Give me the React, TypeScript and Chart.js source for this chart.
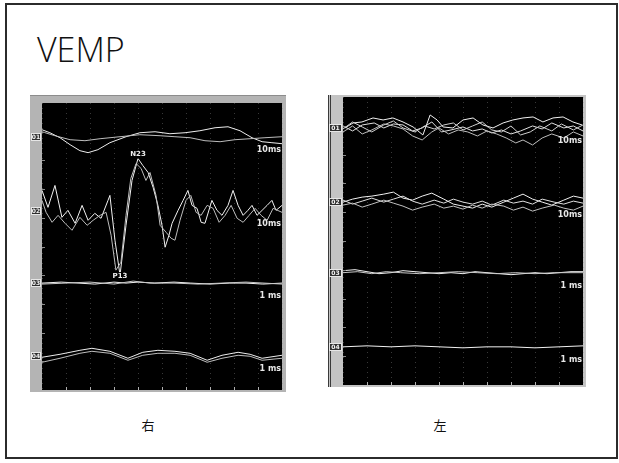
import React, { useEffect, useRef } from "react";
import { Chart, registerables } from "chart.js";
Chart.register(...registerables);

type P = [number, number][];

// ---------- Data (x: % of sweep, y: amplitude deviation in µV-like units) ----------
const CH_LABELS = ["01", "02", "03", "04"];
const L_SCALE_LABELS = ["10ms", "10ms", "1 ms", "1 ms"];
const R_SCALE_LABELS = ["10ms", "10ms", "1 ms", "1 ms"];
const L_BASES = [3.53, 2.49, 1.49, 0.47];
const R_BASES = [3.57, 2.54, 1.56, 0.53];
const UNITS_PER_DIV = 72;

// Right ear (右)
const L_CH1_A: P = [[0,7],[3.3,4],[7.5,-1],[11.7,-8],[15.8,-14],[19.2,-16],[23.3,-13],[28.3,-6],[35,0],[40.8,4],[47.1,5],[53.3,3],[59.6,4],[65.8,6],[72.1,9],[77.5,10],[82.5,6],[87.5,-1],[91.7,-5],[95.8,-6],[100,-7]];
const L_CH1_B: P = [[0,5],[5.4,1],[11.7,-3],[17.9,-4],[24.2,-2],[32.5,0],[40.8,2],[49.2,1],[55.4,0],[61.7,-1],[67.9,-4],[74.2,-5],[80.4,-3],[86.7,-2],[92.9,-1],[100,0]];
const L_CH2_A: P = [[0,21],[2.5,4],[5.4,26],[8.3,-6],[10.8,1],[13.8,-12],[16.7,6],[19.2,-9],[22,-2],[24.6,-7],[27.5,11],[28.3,16],[30.4,-29],[32.5,-64],[35,-14],[37.5,31],[40,53],[42,46],[44.2,39],[46.3,24],[48.3,6],[50,-14],[51.3,-36],[52.9,-24],[54.2,-12],[56.7,1],[58.8,11],[60.8,21],[62.5,6],[64.6,3],[66.3,-11],[67.9,-12],[70.8,11],[72.9,1],[75,-4],[77.5,6],[79.6,21],[81.7,6],[83.8,-4],[85.8,1],[87.5,6],[89.6,-4],[91.7,1],[93.8,6],[95.8,11],[97.5,1],[100,6]];
const L_CH2_B: P = [[0,11],[1.7,-1],[4.2,-11],[6.7,-4],[9.6,-12],[12.5,-19],[15.8,-6],[18.8,-14],[21.3,-9],[24.2,-4],[26.7,-1],[28.8,-24],[30.8,-59],[32.9,-51],[35,-4],[37,33],[39.2,48],[41.3,43],[43.3,31],[45,39],[47.5,16],[49.2,-14],[51.7,-21],[53.8,-27],[55.4,-29],[57.5,-9],[60,11],[62,16],[64.2,-1],[66.3,-4],[68.8,6],[71.3,3],[73.8,-11],[76.3,-4],[78.8,6],[81.3,-7],[83.8,-11],[86.3,-4],[88.8,3],[91.3,-4],[93.8,-9],[96.3,3],[100,-1]];
const L_CH3_A: P = [[0,0],[8,1],[15,0],[22,-1],[30,1],[35,0],[40,1],[47,0],[55,1],[62,0],[70,-1],[78,0],[85,0],[92,-1],[100,0]];
const L_CH3_B: P = [[0,-1],[10,0],[20,1],[30,-1],[38,2],[45,0],[55,0],[65,-1],[75,0],[85,1],[100,-1]];
const L_CH4_A: P = [[0,-1],[7.5,2],[15.8,6],[20.8,8],[28.3,5],[35.8,-2],[42,4],[48.3,6],[55.4,5],[61.7,3],[68.8,-4],[75,1],[81.7,4],[86.7,2],[91.7,-2],[100,1]];
const L_CH4_B: P = [[0,-6],[7.5,-2],[15.8,3],[20.8,5],[28.3,3],[35.8,-4],[42,1],[48.3,3],[55.4,3],[61.7,1],[68.8,-6],[75,-2],[81.7,1],[86.7,0],[91.7,-4],[100,-2]];

// Left ear (左)
const R_CH1_A: P = [[0.8,0],[4.2,5],[7.9,6],[12.5,10],[16.7,8],[20.8,10],[25,6],[29.2,1],[33.3,-7],[36.3,13],[39.2,8],[41.7,1],[45.8,0],[50,8],[54.2,10],[58.3,3],[62.5,0],[66.7,5],[70.8,8],[75,10],[79.2,11],[83.3,6],[87.5,10],[91.7,11],[95.8,6],[99.6,3]];
const R_CH1_B: P = [[0,-4],[4,2],[8,-6],[12,-2],[17,4],[21,2],[25,-1],[29,-8],[33,-12],[37,-4],[40,0],[44,-6],[48,-2],[52,-4],[56,-8],[60,-3],[64,-6],[68,-10],[72,-15],[75,-12],[79,-17],[83,-10],[87,-6],[92,-10],[96,-4],[100,-8]];
const R_CH1_C: P = [[0,2],[4,-3],[8,3],[13,5],[17,0],[21,4],[25,3],[29,-3],[33,0],[37,6],[41,-4],[45,-2],[50,1],[54,-3],[58,-1],[62,-5],[66,-2],[70,-6],[74,-3],[79,2],[83,-1],[87,5],[92,0],[96,2],[100,-3]];
const R_CH1_D: P = [[0,-1],[4,6],[8,1],[12,-4],[17,3],[21,7],[25,0],[30,-4],[34,2],[38,-1],[42,3],[46,5],[50,-2],[54,2],[58,6],[62,-2],[66,-4],[70,2],[74,-7],[78,-4],[82,2],[87,-3],[91,4],[96,-2],[100,3]];
const R_CH2_A: P = [[0,0],[4,3],[8,5],[12,6],[17,8],[21,10],[25,4],[29,2],[33,6],[37,9],[42,3],[46,-2],[50,-4],[54,-6],[58,-2],[62,-5],[67,0],[71,4],[75,8],[79,3],[83,0],[87,-3],[92,2],[96,6],[100,4]];
const R_CH2_B: P = [[0,-3],[4,-1],[8,-5],[12,-2],[17,2],[21,-1],[25,-4],[29,-8],[33,-5],[38,-2],[42,-6],[46,-4],[50,-7],[54,-3],[58,-6],[62,-2],[67,-4],[71,-8],[75,-5],[79,-9],[83,-6],[88,-3],[92,-6],[96,-8],[100,-4]];
const R_CH2_C: P = [[0,2],[4,-2],[8,1],[12,4],[17,0],[21,3],[25,6],[29,1],[33,-2],[38,2],[42,-1],[46,3],[50,0],[54,-2],[58,1],[62,-3],[67,2],[71,-1],[75,1],[79,-2],[83,3],[88,0],[92,-2],[96,1],[100,-1]];
const R_CH3_A: P = [[0,2],[5,3],[10,1],[15,-1],[20,0],[25,2],[30,1],[35,0],[40,-1],[45,0],[50,-1],[55,1],[60,0],[65,-1],[70,-2],[75,-1],[80,0],[85,-1],[90,0],[95,1],[100,1]];
const R_CH3_B: P = [[0,0],[6,1],[12,-1],[18,1],[24,0],[32,-1],[40,0],[48,1],[56,0],[64,-1],[72,0],[80,-1],[88,0],[100,0]];
const R_CH4_A: P = [[0,0],[10,1],[20,0],[30,1],[40,0],[50,-1],[60,0],[70,0],[80,-1],[90,0],[100,1]];

const X_STEPS = [0, 10, 20, 30, 40, 50, 60, 70, 80, 90, 100];
const Y_MARKS = [0.4, 0.8, 1.2, 1.6, 2.0, 2.4, 2.8, 3.2, 3.6];

type Trace = { data: P; ch: number; color: string };

const LEFT_TRACES: Trace[] = [
  { data: L_CH1_B, ch: 0, color: "#bdbdbd" },
  { data: L_CH1_A, ch: 0, color: "#ededed" },
  { data: L_CH2_B, ch: 1, color: "#bdbdbd" },
  { data: L_CH2_A, ch: 1, color: "#f2f2f2" },
  { data: L_CH3_B, ch: 2, color: "#c8c8c8" },
  { data: L_CH3_A, ch: 2, color: "#f2f2f2" },
  { data: L_CH4_B, ch: 3, color: "#bdbdbd" },
  { data: L_CH4_A, ch: 3, color: "#ededed" },
];

const RIGHT_TRACES: Trace[] = [
  { data: R_CH1_B, ch: 0, color: "#bdbdbd" },
  { data: R_CH1_D, ch: 0, color: "#d0d0d0" },
  { data: R_CH1_C, ch: 0, color: "#e0e0e0" },
  { data: R_CH1_A, ch: 0, color: "#f0f0f0" },
  { data: R_CH2_B, ch: 1, color: "#c0c0c0" },
  { data: R_CH2_C, ch: 1, color: "#e0e0e0" },
  { data: R_CH2_A, ch: 1, color: "#f0f0f0" },
  { data: R_CH3_B, ch: 2, color: "#c8c8c8" },
  { data: R_CH3_A, ch: 2, color: "#f2f2f2" },
  { data: R_CH4_A, ch: 3, color: "#f2f2f2" },
];

type PanelProps = {
  left: number;
  top: number;
  width: number;
  height: number;
  strip: number;
  pad: { top: number; right: number; bottom: number };
  traces: Trace[];
  bases: number[];
  scaleLabels: string[];
  peaks?: boolean;
  stripColor: string;
  edgeLines?: boolean;
};

function Panel(props: PanelProps) {
  const ref = useRef<HTMLCanvasElement | null>(null);
  useEffect(() => {
    const canvas = ref.current;
    if (!canvas) return;
    const { traces, bases, scaleLabels, peaks, stripColor, edgeLines } = props;

    const decor = {
      id: "scopeDecor",
      beforeDraw(chart: any) {
        const { ctx, chartArea: a } = chart;
        ctx.save();
        ctx.fillStyle = stripColor;
        ctx.fillRect(0, 0, chart.width, chart.height);
        if (edgeLines) {
          ctx.fillStyle = "#3a3a3a";
          ctx.fillRect(0, 0, 1, chart.height);
          ctx.fillRect(2, 0, 1, chart.height);
        } else {
          ctx.fillStyle = "#8c8c8c";
          ctx.fillRect(0, 0, chart.width, 1);
        }
        ctx.fillStyle = "#000";
        ctx.fillRect(a.left, a.top, a.right - a.left, a.bottom - a.top);
        ctx.restore();
      },
      afterDatasetsDraw(chart: any) {
        const { ctx, chartArea: a, scales } = chart;
        const xs = scales.x;
        const ys = scales.y;
        ctx.save();
        ctx.strokeStyle = "#8a8a8a";
        ctx.lineWidth = 1;
        Y_MARKS.forEach((v) => {
          const py = Math.round(ys.getPixelForValue(v)) + 0.5;
          ctx.beginPath();
          ctx.moveTo(a.left, py);
          ctx.lineTo(a.left + 3, py);
          ctx.stroke();
        });
        ctx.strokeStyle = "#b0b0b0";
        X_STEPS.slice(1, -1).forEach((v) => {
          const px = Math.round(xs.getPixelForValue(v)) + 0.5;
          ctx.beginPath();
          ctx.moveTo(px, a.bottom);
          ctx.lineTo(px, a.bottom - 3);
          ctx.stroke();
        });
        // channel tags in the left strip
        ctx.font = 'bold 6px "DejaVu Sans"';
        ctx.textAlign = "center";
        ctx.textBaseline = "middle";
        bases.forEach((b, i) => {
          const py = Math.round(ys.getPixelForValue(b));
          const bx = a.left - props.strip + 1;
          const bw = props.strip - 2;
          ctx.fillStyle = "#2e2e2e";
          ctx.fillRect(bx, py - 4, bw, 8);
          ctx.strokeStyle = "#e6e6e6";
          ctx.strokeRect(bx + 0.5, py - 3.5, bw - 1, 7);
          ctx.fillStyle = "#f4f4f4";
          ctx.fillText(CH_LABELS[i], bx + bw / 2, py + 0.5);
        });
        ctx.fillStyle = "#e8e8e8";
        ctx.font = 'bold 8px "DejaVu Sans"';
        ctx.textAlign = "right";
        ctx.textBaseline = "middle";
        bases.forEach((b, i) => {
          const py = ys.getPixelForValue(b - 13 / UNITS_PER_DIV);
          ctx.fillText(scaleLabels[i], a.right - 1, py);
        });
        if (peaks) {
          const tr = traces.find((t) => t.data === L_CH2_A)!;
          let maxP = tr.data[0];
          let minP = tr.data[0];
          tr.data.forEach((p) => {
            if (p[1] > maxP[1]) maxP = p;
            if (p[1] < minP[1]) minP = p;
          });
          const base = bases[tr.ch];
          const drawTag = (txt: string, p: [number, number], dy: number) => {
            const px = xs.getPixelForValue(p[0]);
            const py = ys.getPixelForValue(base + p[1] / UNITS_PER_DIV) + dy;
            ctx.font = 'bold 7px "DejaVu Sans"';
            const w = ctx.measureText(txt).width;
            ctx.fillStyle = "#000";
            ctx.fillRect(px - w / 2 - 1, py - 4, w + 2, 8);
            ctx.fillStyle = "#f0f0f0";
            ctx.textAlign = "center";
            ctx.textBaseline = "middle";
            ctx.fillText(txt, px, py);
          };
          drawTag("N23", maxP, -4);
          drawTag("P13", minP, 1);
        }
        ctx.restore();
      },
    };

    const chart = new Chart(canvas, {
      type: "line",
      data: {
        datasets: traces.map((t) => ({
          data: t.data.map(([x, y]) => ({ x, y: bases[t.ch] + y / UNITS_PER_DIV })),
          borderColor: t.color,
          borderWidth: 1,
          pointRadius: 0,
          tension: 0,
          fill: false,
        })),
      },
      options: {
        responsive: false,
        animation: false,
        events: [],
        layout: { padding: { left: 0, top: props.pad.top, right: props.pad.right, bottom: props.pad.bottom } },
        plugins: { legend: { display: false }, tooltip: { enabled: false } },
        scales: {
          x: {
            type: "linear",
            min: 0,
            max: 100,
            afterBuildTicks: (s: any) => {
              s.ticks = X_STEPS.map((v) => ({ value: v }));
            },
            afterFit: (s: any) => {
              s.height = 0;
            },
            ticks: { display: false },
            grid: { color: "rgba(140,140,140,0.4)", lineWidth: 1, drawTicks: false },
            border: { display: false, dash: [1, 4] },
          },
          y: {
            type: "linear",
            min: 0,
            max: 4,
            position: "left",
            afterFit: (s: any) => {
              s.width = props.strip;
            },
            ticks: { display: false },
            grid: { display: false },
            border: { display: false },
          },
        },
      } as any,
      plugins: [decor],
    });
    return () => chart.destroy();
  }, []);

  return (
    <canvas
      ref={ref}
      width={props.width}
      height={props.height}
      style={{ position: "absolute", left: props.left, top: props.top, width: props.width, height: props.height, display: "block" }}
    />
  );
}

const captionStyle: React.CSSProperties = {
  position: "absolute",
  top: 418,
  width: 40,
  textAlign: "center",
  fontFamily: '"Noto Sans CJK JP", sans-serif',
  fontSize: 13,
  lineHeight: "13px",
  color: "#111",
};

export default function App() {
  useEffect(() => {
    document.body.style.margin = "0";
  }, []);
  return (
    <div style={{ position: "fixed", left: 0, top: 0, width: 619, height: 463, background: "#fff", overflow: "hidden" }}>
      <div
        style={{
          position: "absolute",
          left: 5,
          top: 3,
          width: 613,
          height: 456,
          border: "2px solid #2b2b2b",
          boxSizing: "border-box",
        }}
      />
      <div
        style={{
          position: "absolute",
          left: 37,
          top: 32,
          fontFamily: '"Open Sans", sans-serif',
          fontWeight: 300,
          fontSize: 34,
          lineHeight: "34px",
          color: "#111",
          whiteSpace: "nowrap",
        }}
      >
        VEMP
      </div>
      <Panel
        left={30}
        top={95}
        width={256}
        height={297}
        strip={12}
        pad={{ top: 8, right: 4, bottom: 2 }}
        traces={LEFT_TRACES}
        bases={L_BASES}
        scaleLabels={L_SCALE_LABELS}
        peaks
        stripColor="#b4b4b4"
      />
      <Panel
        left={328}
        top={95}
        width={258}
        height={292}
        strip={15}
        pad={{ top: 2, right: 3, bottom: 2 }}
        traces={RIGHT_TRACES}
        bases={R_BASES}
        scaleLabels={R_SCALE_LABELS}
        stripColor="#c4c4c4"
        edgeLines
      />
      <div style={{ ...captionStyle, left: 128 }}>右</div>
      <div style={{ ...captionStyle, left: 420 }}>左</div>
    </div>
  );
}
